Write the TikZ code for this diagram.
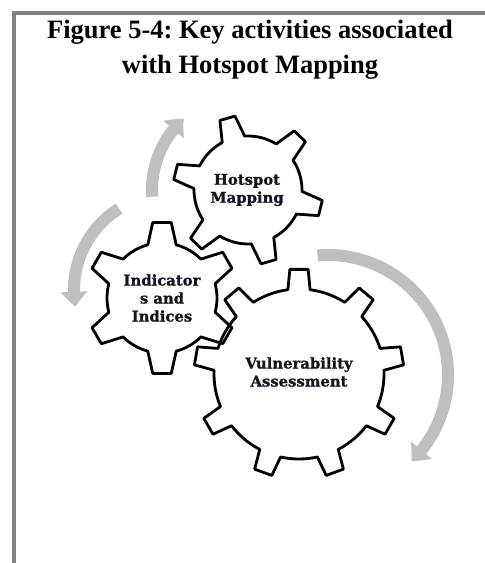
\documentclass[tikz,border=0pt]{standalone}
\usepackage{fontspec}
\setmainfont{Liberation Serif}
\newfontfamily\gearfont[BoldFont={DejaVu Serif Bold}, BoldFeatures={FakeBold=1.2}]{DejaVu Serif}
\usetikzlibrary{arrows.meta,calc,bending}
\definecolor{framegray}{RGB}{128,128,128}
\definecolor{arrowgray}{RGB}{191,191,191}
\definecolor{geartextcol}{RGB}{20,20,35}
\frenchspacing
\tikzset{
  frameline/.style={draw=framegray, line width=3.5pt},
  gearline/.style={draw=black, line width=2.8pt, line join=round},
  cyclearrow/.style={draw=arrowgray, line width=12pt, -{Triangle[width=26pt,length=15pt,bend]}},
  titletext/.style={font=\bfseries\fontsize{26.5}{30}\selectfont, anchor=base, inner sep=0pt},
  geartext/.style={font=\gearfont\bfseries\fontsize{14.8}{18}\selectfont, text=geartextcol, align=center, inner sep=0pt},
}
% #1 center, #2 teeth, #3 root radius, #4 tip radius, #5 first tooth angle, #6 base half-angle, #7 tip half-angle
\newcommand\drawgear[7]{%
  \begin{scope}[shift={(#1)}]
  \draw[gearline] ({#5-#6}:#3)
    \foreach \k in {1,...,#2}{
      -- ({#5+(\k-1)*360/#2-#7}:#4) -- ({#5+(\k-1)*360/#2+#7}:#4) -- ({#5+(\k-1)*360/#2+#6}:#3)
      arc[start angle={#5+(\k-1)*360/#2+#6}, end angle={#5+\k*360/#2-#6}, radius=#3]
    } -- cycle;
  \end{scope}}
\begin{document}
\begin{tikzpicture}[x=1pt,y=1pt]
\useasboundingbox (0,0) rectangle (485,563);
% frame
\coordinate (fr) at (485,550);
\coordinate (fc) at (14,550);
\coordinate (fb) at (14,0);
\draw[frameline] (fr) -- (fc) -- (fb);
% title
\node[titletext] (t1) at (250,524.5) {Figure 5-4: Key activities associated};
\node[titletext] (t2) at (250,489) {with Hotspot Mapping};
% gear centres
\coordinate (H) at (248,373);
\coordinate (I) at (162,265);
\coordinate (V) at (299,189);
% gears
\drawgear{H}{6}{54}{75}{46}{12.5}{6}
\drawgear{I}{6}{55}{76}{90}{15}{7}
\drawgear{V}{9}{85}{105}{90}{7.5}{5}
% labels
\node[geartext] (hot) at (247,373) {Hotspot\\Mapping};
\node[geartext] (ind) at (162,265) {Indicator\\s and\\Indices};
\node[geartext] (vul) at (299,191) {Vulnerability\\Assessment};
% cycle arrows
\coordinate (A2c) at (170,273);
\coordinate (A3c) at (328,188);
\coordinate (a1s) at ($(H)+(184:96)$);
\coordinate (a2s) at ($(A2c)+(122:96)$);
\coordinate (a3s) at ($(A3c)+(95:120)$);
\draw[cyclearrow] (a1s) arc[start angle=184, end angle=132, radius=96];
\draw[cyclearrow] (a2s) arc[start angle=122, end angle=190, radius=96];
\draw[cyclearrow] (a3s) arc[start angle=95, end angle=-46, radius=120];
\end{tikzpicture}
\end{document}
